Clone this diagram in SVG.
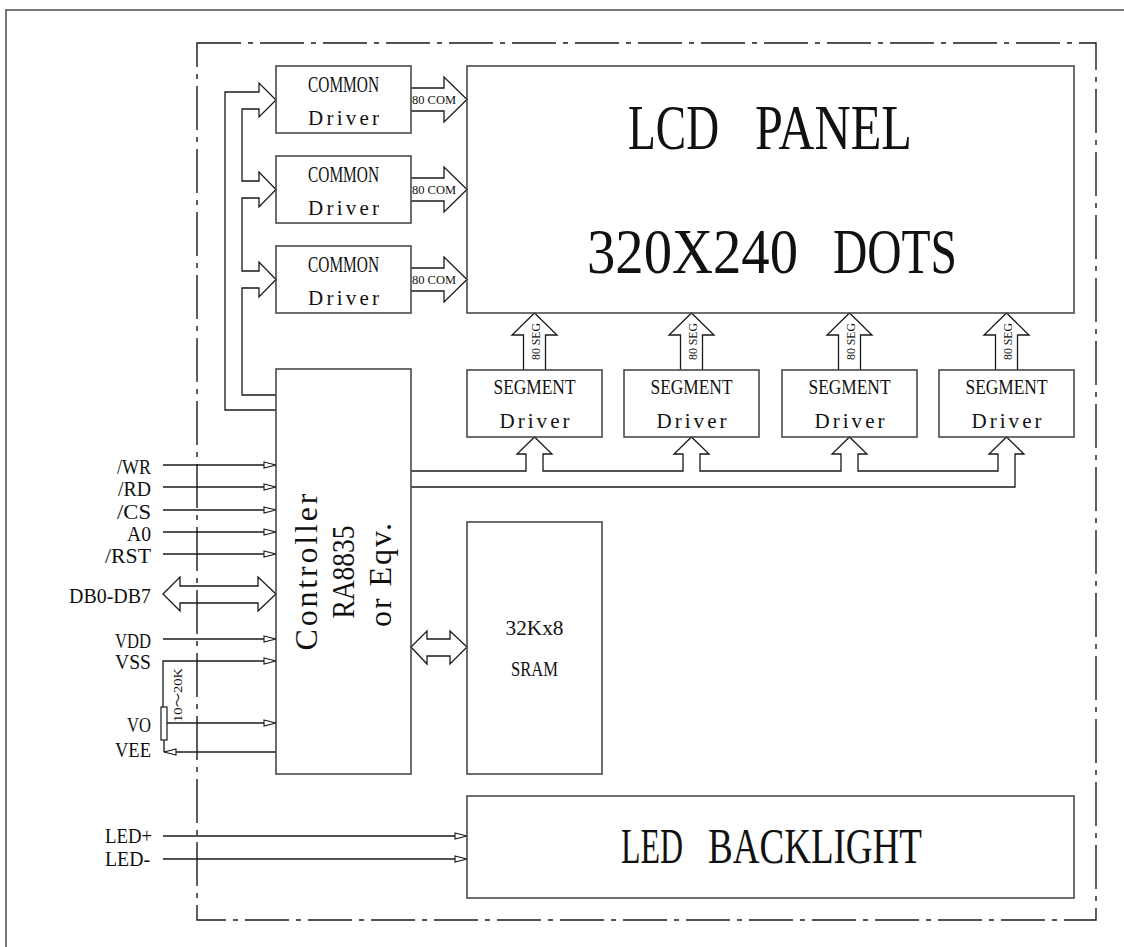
<svg xmlns="http://www.w3.org/2000/svg" width="1124" height="947" viewBox="0 0 1124 947">
<style>
.box{fill:none;stroke:#4a4a4a;stroke-width:1.6}
.ln{fill:none;stroke:#1a1a1a;stroke-width:1.3}
.dd{fill:none;stroke:#1a1a1a;stroke-width:1.4;stroke-dasharray:44 7 5 7}
.sr{font-family:"Liberation Serif","Times New Roman",serif;fill:#111}
.lbl{font-size:22px;text-anchor:end}
.mid{text-anchor:middle}
</style>
<defs>
<marker id="tri" markerWidth="16" markerHeight="10" refX="13" refY="4" orient="auto" markerUnits="userSpaceOnUse">
<path d="M1,1 L13,4 L1,7 Z" fill="#fff" stroke="#1a1a1a" stroke-width="1.1"/>
</marker>
</defs>
<rect width="1124" height="947" fill="#fff"/>
<rect x="6" y="10" width="1300" height="1100" fill="none" stroke="#555" stroke-width="1.6"/>
<rect x="197" y="43" width="899" height="877" class="dd"/>

<g id="connectors">
<path class="ln" d="M276,410 H225 V92 H259 V83 L276,100 L259,117 V109 H242 V181 H259 V172 L276,189.5 L259,207 V198 H242 V271 H259 V262 L276,279.5 L259,297 V288 H242 V395 H276"/>
<path class="ln" d="M411,88 H444 V77 L467,99.5 L444,122 V111 H411"/>
<path class="ln" d="M411,178 H444 V167 L467,189.5 L444,212 V201 H411"/>
<path class="ln" d="M411,268 H444 V257 L467,279.5 L444,302 V291 H411"/>
<path class="ln" d="M523.5,370 V335 H512 L534.5,313 L557,335 H545.5 V370"/>
<path class="ln" d="M680.5,370 V335 H669 L691.5,313 L714,335 H702.5 V370"/>
<path class="ln" d="M838.5,370 V335 H827 L849.5,313 L872,335 H860.5 V370"/>
<path class="ln" d="M995.5,370 V335 H984 L1006.5,313 L1029,335 H1017.5 V370"/>
<path class="ln" d="M411,471 H526 V454 H517 L534.5,437 L552,454 H543 V471 H683 V454 H674 L691.5,437 L709,454 H700 V471 H841 V454 H832 L849.5,437 L867,454 H858 V471 H998 V454 H989 L1006.5,437 L1024,454 H1015 V487 H411"/>
<path class="ln" d="M411,647 L427,631 V639 H450 V631 L467,647 L450,664 V656 H427 V664 Z"/>
<path class="ln" d="M163,594 L180,577 V586 H258 V577 L276,594 L258,611 V603 H180 V611 Z"/>
<path class="ln" d="M163,465 H276" marker-end="url(#tri)"/>
<path class="ln" d="M163,487 H276" marker-end="url(#tri)"/>
<path class="ln" d="M163,510 H276" marker-end="url(#tri)"/>
<path class="ln" d="M163,532 H276" marker-end="url(#tri)"/>
<path class="ln" d="M163,554 H276" marker-end="url(#tri)"/>
<path class="ln" d="M163,639 H276" marker-end="url(#tri)"/>
<path class="ln" d="M163,707 V661 H276" marker-end="url(#tri)"/>
<path class="ln" d="M167,723 H276" marker-end="url(#tri)"/>
<path class="ln" d="M276,752 H164" marker-end="url(#tri)"/>
<path class="ln" d="M164,740 V752"/>
<rect x="161" y="707" width="6" height="33" fill="#fff" stroke="#1a1a1a" stroke-width="1.2"/>
<path class="ln" d="M163,836 H467" marker-end="url(#tri)"/>
<path class="ln" d="M163,859 H467" marker-end="url(#tri)"/>
</g>

<g id="com-labels" class="sr" font-size="12">
<text x="412" y="104" textLength="44" lengthAdjust="spacingAndGlyphs">80 COM</text>
<text x="412" y="194" textLength="44" lengthAdjust="spacingAndGlyphs">80 COM</text>
<text x="412" y="284" textLength="44" lengthAdjust="spacingAndGlyphs">80 COM</text>
</g>
<g id="seg-labels" class="sr" font-size="12" text-anchor="middle">
<text x="540" y="341.5" transform="rotate(-90 540 341.5)" textLength="37" lengthAdjust="spacingAndGlyphs">80 SEG</text>
<text x="697" y="341.5" transform="rotate(-90 697 341.5)" textLength="37" lengthAdjust="spacingAndGlyphs">80 SEG</text>
<text x="855" y="341.5" transform="rotate(-90 855 341.5)" textLength="37" lengthAdjust="spacingAndGlyphs">80 SEG</text>
<text x="1012" y="341.5" transform="rotate(-90 1012 341.5)" textLength="37" lengthAdjust="spacingAndGlyphs">80 SEG</text>
</g>

<g id="common1">
<rect class="box" x="276" y="66" width="135" height="67"/>
<text class="sr mid" x="343.5" y="92" font-size="23" textLength="71" lengthAdjust="spacingAndGlyphs">COMMON</text>
<text class="sr mid" x="343.5" y="125" font-size="21" textLength="71" lengthAdjust="spacing">Driver</text>
</g>
<g id="common2">
<rect class="box" x="276" y="156" width="135" height="67"/>
<text class="sr mid" x="343.5" y="182" font-size="23" textLength="71" lengthAdjust="spacingAndGlyphs">COMMON</text>
<text class="sr mid" x="343.5" y="215" font-size="21" textLength="71" lengthAdjust="spacing">Driver</text>
</g>
<g id="common3">
<rect class="box" x="276" y="246" width="135" height="67"/>
<text class="sr mid" x="343.5" y="272" font-size="23" textLength="71" lengthAdjust="spacingAndGlyphs">COMMON</text>
<text class="sr mid" x="343.5" y="305" font-size="21" textLength="71" lengthAdjust="spacing">Driver</text>
</g>

<g id="lcd-panel">
<rect class="box" x="467" y="66" width="607" height="247"/>
<text class="sr" y="149" font-size="64"><tspan x="628" textLength="91" lengthAdjust="spacingAndGlyphs">LCD</tspan><tspan x="755" textLength="157" lengthAdjust="spacingAndGlyphs">PANEL</tspan></text>
<text class="sr" y="273" font-size="64"><tspan x="587" textLength="211" lengthAdjust="spacingAndGlyphs">320X240</tspan><tspan x="833" textLength="124" lengthAdjust="spacingAndGlyphs">DOTS</tspan></text>
</g>

<g id="segment1">
<rect class="box" x="467" y="370" width="135" height="67"/>
<text class="sr mid" x="534.5" y="394" font-size="21" textLength="82" lengthAdjust="spacingAndGlyphs">SEGMENT</text>
<text class="sr mid" x="534.5" y="428" font-size="21" textLength="70" lengthAdjust="spacing">Driver</text>
</g>
<g id="segment2">
<rect class="box" x="624" y="370" width="135" height="67"/>
<text class="sr mid" x="691.5" y="394" font-size="21" textLength="82" lengthAdjust="spacingAndGlyphs">SEGMENT</text>
<text class="sr mid" x="691.5" y="428" font-size="21" textLength="70" lengthAdjust="spacing">Driver</text>
</g>
<g id="segment3">
<rect class="box" x="782" y="370" width="135" height="67"/>
<text class="sr mid" x="849.5" y="394" font-size="21" textLength="82" lengthAdjust="spacingAndGlyphs">SEGMENT</text>
<text class="sr mid" x="849.5" y="428" font-size="21" textLength="70" lengthAdjust="spacing">Driver</text>
</g>
<g id="segment4">
<rect class="box" x="939" y="370" width="135" height="67"/>
<text class="sr mid" x="1006.5" y="394" font-size="21" textLength="82" lengthAdjust="spacingAndGlyphs">SEGMENT</text>
<text class="sr mid" x="1006.5" y="428" font-size="21" textLength="70" lengthAdjust="spacing">Driver</text>
</g>

<g id="controller">
<rect class="box" x="276" y="369" width="135" height="405"/>
<text class="sr mid" x="317" y="572" transform="rotate(-90 317 572)" font-size="32" textLength="157" lengthAdjust="spacing">Controller</text>
<text class="sr mid" x="354" y="572" transform="rotate(-90 354 572)" font-size="32" textLength="93" lengthAdjust="spacingAndGlyphs">RA8835</text>
<text class="sr mid" x="391" y="575" transform="rotate(-90 391 575)" font-size="32" textLength="104" lengthAdjust="spacing">or Eqv.</text>
</g>

<g id="sram">
<rect class="box" x="467" y="522" width="135" height="252"/>
<text class="sr mid" x="534.5" y="635" font-size="22" textLength="58" lengthAdjust="spacingAndGlyphs">32Kx8</text>
<text class="sr mid" x="534.5" y="676" font-size="22" textLength="47" lengthAdjust="spacingAndGlyphs">SRAM</text>
</g>

<g id="led-backlight">
<rect class="box" x="467" y="796" width="607" height="102"/>
<text class="sr" y="863" font-size="50"><tspan x="621" textLength="62" lengthAdjust="spacingAndGlyphs">LED</tspan><tspan x="708" textLength="214" lengthAdjust="spacingAndGlyphs">BACKLIGHT</tspan></text>
</g>

<g id="signals" class="sr lbl">
<text x="151" y="474" textLength="34" lengthAdjust="spacingAndGlyphs">/WR</text>
<text x="151" y="496" textLength="33" lengthAdjust="spacingAndGlyphs">/RD</text>
<text x="151" y="519" textLength="34" lengthAdjust="spacingAndGlyphs">/CS</text>
<text x="151" y="541" textLength="24" lengthAdjust="spacingAndGlyphs">A0</text>
<text x="151" y="563" textLength="46" lengthAdjust="spacingAndGlyphs">/RST</text>
<text x="151" y="603" textLength="82" lengthAdjust="spacingAndGlyphs">DB0-DB7</text>
<text x="151" y="648" textLength="36" lengthAdjust="spacingAndGlyphs">VDD</text>
<text x="151" y="669" textLength="36" lengthAdjust="spacingAndGlyphs">VSS</text>
<text x="151" y="732" textLength="24" lengthAdjust="spacingAndGlyphs">VO</text>
<text x="151" y="757" textLength="36" lengthAdjust="spacingAndGlyphs">VEE</text>
<text x="152" y="843" textLength="47" lengthAdjust="spacingAndGlyphs">LED+</text>
<text x="150" y="866" textLength="45" lengthAdjust="spacingAndGlyphs">LED-</text>
</g>
<g id="resistor-label">
<text class="sr mid" x="182" y="695" transform="rotate(-90 182 695)" font-size="13" textLength="54" lengthAdjust="spacingAndGlyphs" style="font-family:'Liberation Serif','Noto Sans CJK SC',serif">10～20K</text>
</g>
</svg>
